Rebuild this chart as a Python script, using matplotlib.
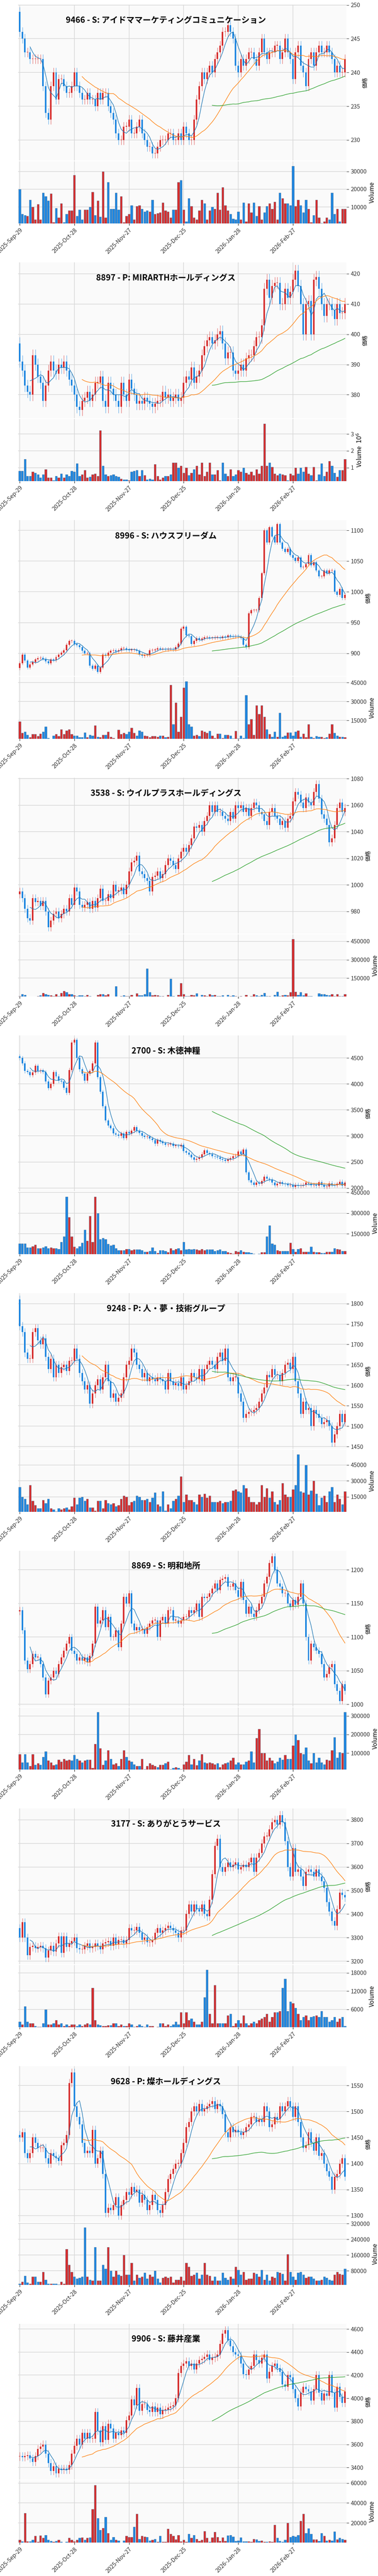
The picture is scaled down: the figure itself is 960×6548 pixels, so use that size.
import numpy as np
import pandas as pd
import matplotlib
matplotlib.use('Agg')
import matplotlib.pyplot as plt
from matplotlib.ticker import FuncFormatter, MaxNLocator

plt.rcParams['font.family'] = ['Noto Sans CJK JP', 'DejaVu Sans']

TICK_LABELS = ['2025-Sep-29', '2025-Oct-28', '2025-Nov-27', '2025-Dec-25', '2026-Jan-28', '2026-Feb-27']

# ---- 9466 ----
CLOSE_9466 = [246, 245, 243, 243, 242, 242, 242, 242, 242, 238, 234, 233, 238, 240, 236, 239, 239, 238, 237, 237, 238,
              240, 238, 237, 236, 236, 237, 236, 236, 235, 237, 236, 237, 237, 235, 234, 233, 231, 230, 230, 232, 232,
              233, 231, 231, 232, 233, 231, 230, 229, 229, 228, 228, 229, 230, 230, 230, 231, 231, 230, 230, 231, 230,
              232, 231, 230, 230, 233, 236, 238, 240, 239, 240, 241, 240, 242, 243, 244, 246, 246, 247, 246, 245, 241,
              240, 242, 241, 242, 243, 243, 242, 241, 243, 245, 243, 242, 243, 243, 244, 244, 242, 243, 245, 243, 242,
              239, 243, 244, 241, 240, 238, 242, 243, 241, 243, 244, 243, 243, 244, 243, 242, 240, 241, 240, 240, 242]
VOL_9466 = [20, 6, 5.5, 5, 14, 10, 3, 11.5, 3, 18, 16, 13.5, 17.5, 1.5, 9.5, 4, 12, 1.5, 6, 8, 8,
            28, 5, 8.5, 3, 8.5, 8.5, 10, 18.5, 5.5, 13.5, 4.5, 30, 4, 24, 9, 9, 18, 8.5, 16, 1.5, 5,
            6, 11, 3, 10.5, 11, 9, 7.5, 8, 7.5, 14, 6, 6.5, 7, 12.5, 8, 7.5, 4, 8.5, 8.5, 24, 25,
            8.5, 2, 15, 10.5, 4, 3, 8, 14, 12, 3, 8, 10, 9, 18, 8.5, 21, 11, 8, 6, 3.5, 3,
            7.5, 3, 12.5, 2, 12, 7, 12.5, 5, 10.5, 3, 7, 10.5, 12, 9, 13, 3, 18, 15, 12, 12, 11,
            33, 10.5, 14, 11, 7, 14, 9, 1.5, 5.5, 14, 4, 1, 2, 4, 3, 18, 6, 9, 2, 9, 9]

# ---- 8897 ----
CLOSE_8897 = [391, 388, 383, 381, 380, 393, 390, 386, 384, 378, 383, 388, 391, 388, 387, 390, 389, 391, 388, 385, 383,
              380, 376, 375, 378, 379, 381, 378, 380, 384, 384, 386, 378, 376, 384, 382, 380, 378, 376, 384, 380, 378,
              385, 382, 380, 377, 378, 377, 379, 378, 377, 376, 377, 378, 378, 381, 379, 380, 378, 379, 380, 378, 379,
              384, 386, 385, 389, 384, 386, 388, 393, 396, 398, 399, 397, 398, 400, 401, 397, 392, 394, 394, 388, 387,
              388, 390, 388, 392, 393, 393, 396, 399, 399, 403, 415, 418, 412, 416, 417, 417, 410, 410, 415, 412, 414,
              418, 421, 416, 410, 400, 410, 411, 400, 418, 419, 415, 410, 406, 410, 410, 408, 405, 410, 407, 407, 410]
VOL_8897 = [.8, .8, 1.5, .5, .5, .75, .7, .6, .4, .6, .9, .4, .4, .25, .5, .4, .65, .4, .6, .5, .8,
            .75, 1.25, .5, .6, .85, .4, .45, .6, .65, .5, 3.2, 1.1, .6, .5, .55, .6, .5, .45, .35, .3, .3,
            .25, .75, .8, .85, .5, .85, .55, .3, .35, .3, 1.2, .5, .3, .4, .5, .5, .6, 1.3, 1.3, 1.0, 1.1,
            .7, 1.0, .55, .7, .9, 1.1, .6, 1.3, .5, .75, 1.3, .6, .6, .85, .25, 1.3, .65, .5, .9, .5, .6,
            .85, .75, 1.0, .7, .6, .75, .55, .9, .65, 1.1, 3.6, 1.1, 1.3, 1.05, .65, .55, .65, .6, .55, .25, .65,
            .55, 1.0, .65, 1.0, .75, 1.05, .65, .55, 1.05, .25, .6, 1.25, .5, .75, 1.4, 1.1, .7, .45, .85, .85, 1.5]

# ---- 8996 ----
CLOSE_8996 = [884, 898, 888, 877, 882, 886, 890, 892, 893, 891, 887, 884, 890, 889, 894, 898, 901, 905, 914, 920, 920,
              915, 913, 910, 904, 900, 900, 880, 875, 880, 870, 877, 898, 896, 901, 904, 905, 903, 905, 908, 908, 906,
              905, 906, 906, 904, 898, 896, 897, 897, 905, 905, 906, 908, 907, 907, 906, 907, 907, 906, 910, 916, 940,
              943, 929, 928, 915, 920, 925, 922, 924, 926, 926, 925, 925, 926, 926, 925, 927, 926, 929, 928, 927, 928,
              927, 925, 914, 910, 965, 970, 970, 970, 990, 1030, 1100, 1080, 1105, 1090, 1080, 1110, 1080, 1070, 1065, 1070, 1060,
              1055, 1050, 1056, 1040, 1040, 1045, 1060, 1043, 1048, 1035, 1025, 1025, 1035, 1030, 1035, 1035, 1000, 995, 1005, 990, 995]
VOL_8996 = [14, 5, 6, 3.5, 1.5, 4, 4, 2.5, 4.5, 6, 10, 1, .5, 3, 4, 2.5, 8, 4, 7, 8, 4,
            3, 3, 1.5, 1.5, 5.5, 1.5, 3.5, 3, 11, 2, 1.5, 3.5, 3.5, 6, 2, 1, .5, 7.5, 4, 5, 4,
            6, 9, 5, 3, 7, 6, 3, 2.5, 1.5, 2.5, 2.5, 2, 3, 3, 1.5, 2, 43, 12, 29, 6, 18,
            41, 46, 12, 10, 3, 3.5, 2.5, 7, 6, 5, 6.5, 3, 1, 4.5, 4.5, 1, 3.5, 3.5, 3, .8, 6.5,
            .8, 3, 1, 35, 12, 16, 3.5, 27, 20, 27, 18, 8, 4, 2, 6, 2, 21, 2, 3, 5.5, 5.5,
            3, 6, 7, 2, 4.5, 1.5, 12, 2, 1, 2.5, 2, 2, 1, 1.5, 4.5, 12, 5, 3, 2, 2, 1.5]

# ---- 3538 ----
CLOSE_3538 = [995, 990, 982, 975, 973, 990, 987, 988, 984, 988, 980, 968, 973, 978, 980, 975, 978, 982, 980, 990, 985,
              998, 995, 985, 983, 985, 987, 982, 988, 983, 990, 997, 988, 988, 993, 990, 1000, 995, 996, 998, 993, 1000,
              1010, 1017, 1018, 1022, 1010, 1008, 1005, 1003, 995, 1006, 1007, 1010, 1005, 1008, 1015, 1020, 1018, 1015, 1012, 1020, 1025,
              1028, 1025, 1030, 1035, 1044, 1043, 1045, 1040, 1048, 1052, 1060, 1055, 1060, 1055, 1055, 1052, 1050, 1048, 1055, 1050, 1060,
              1058, 1060, 1055, 1058, 1052, 1058, 1062, 1060, 1055, 1053, 1048, 1045, 1055, 1058, 1052, 1050, 1045, 1048, 1043, 1050, 1052,
              1063, 1070, 1068, 1062, 1058, 1066, 1062, 1060, 1070, 1076, 1065, 1053, 1050, 1045, 1032, 1035, 1045, 1058, 1062, 1055, 1058]
VOL_3538 = [5, 20, 15, 2, 2, 1, 1, 5, 10, 30, 20, 15, 10, 5, 20, 5, 30, 45, 35, 20, 20,
            10, 5, 10, 10, 5, 15, 5, 2, 1, 15, 20, 20, 10, 20, 2, 1, 85, 2, 5, 10, 5,
            5, 15, 2, 25, 10, 10, 20, 230, 35, 10, 15, 10, 5, 5, 2, 15, 145, 5, 2, 15, 110,
            20, 5, 5, 15, 10, 25, 2, 15, 10, 5, 20, 10, 15, 5, 5, 10, 2, 15, 5, 10, 5,
            2, 5, 2, 15, 2, 5, 20, 10, 5, 15, 30, 5, 5, 2, 15, 40, 5, 10, 15, 10, 35,
            470, 40, 15, 35, 10, 25, 5, 5, 2, 2, 25, 20, 20, 15, 10, 20, 5, 20, 5, 5, 20]

# ---- 2700 ----
CLOSE_2700 = [4500, 4400, 4250, 4230, 4170, 4220, 4350, 4250, 4260, 4230, 4050, 3920, 4000, 4230, 4150, 4060, 4050, 3930, 3830, 4270, 4800,
              4850, 4500, 4280, 4200, 4060, 4200, 4250, 4400, 4800, 4130, 3850, 3570, 3300, 3200, 3150, 3050, 3030, 3000, 3050, 2960, 3080,
              3050, 3100, 3170, 3100, 3060, 3000, 2980, 2990, 2950, 2920, 2850, 2920, 2890, 2860, 2830, 2840, 2850, 2810, 2810, 2800, 2830,
              2710, 2680, 2640, 2590, 2540, 2560, 2590, 2650, 2720, 2670, 2650, 2610, 2600, 2590, 2560, 2540, 2520, 2550, 2570, 2610, 2620,
              2700, 2650, 2740, 2300, 2150, 2100, 2060, 2100, 2080, 2130, 2220, 2180, 2160, 2100, 2050, 2080, 2110, 2080, 2070, 2050, 2060,
              2020, 2060, 2040, 2050, 2060, 2100, 2080, 2050, 2060, 2040, 2110, 2060, 2020, 2030, 2090, 2060, 2050, 2080, 2120, 2040, 2100]
VOL_2700 = [80, 80, 80, 50, 50, 60, 70, 45, 45, 50, 60, 45, 50, 45, 45, 40, 90, 130, 420, 270, 130,
            55, 45, 60, 85, 180, 100, 280, 90, 420, 300, 110, 120, 110, 75, 65, 70, 45, 30, 30, 30, 40,
            40, 30, 35, 35, 35, 30, 20, 20, 25, 50, 25, 10, 30, 30, 25, 15, 45, 30, 40, 45, 30,
            90, 35, 40, 35, 40, 35, 30, 40, 30, 35, 35, 35, 25, 30, 35, 25, 25, 15, 10, 5, 25,
            20, 30, 20, 15, 15, 10, 5, 2, 5, 15, 15, 130, 210, 80, 70, 30, 25, 25, 25, 25, 85,
            40, 20, 40, 45, 20, 20, 20, 55, 20, 15, 15, 10, 10, 20, 20, 20, 45, 40, 35, 25, 25]

# ---- 9248 ----
CLOSE_9248 = [1745, 1730, 1680, 1665, 1665, 1730, 1740, 1710, 1700, 1715, 1670, 1640, 1665, 1620, 1650, 1630, 1645, 1650, 1635, 1660, 1660,
              1690, 1665, 1630, 1610, 1590, 1600, 1555, 1580, 1600, 1615, 1590, 1620, 1650, 1610, 1570, 1580, 1560, 1570, 1580, 1620, 1650,
              1660, 1690, 1680, 1650, 1640, 1620, 1630, 1610, 1620, 1615, 1610, 1620, 1615, 1610, 1590, 1630, 1610, 1600, 1605, 1598, 1620,
              1590, 1600, 1610, 1630, 1620, 1615, 1640, 1610, 1640, 1650, 1660, 1650, 1640, 1670, 1680, 1660, 1690, 1620, 1610, 1620, 1620,
              1580, 1560, 1520, 1530, 1535, 1535, 1540, 1545, 1560, 1580, 1595, 1625, 1620, 1640, 1625, 1625, 1610, 1630, 1650, 1655, 1640,
              1670, 1610, 1580, 1530, 1560, 1540, 1545, 1500, 1540, 1530, 1520, 1505, 1510, 1515, 1500, 1460, 1480, 1500, 1530, 1510, 1530]
VOL_9248 = [24, 15, 13, 8, 26, 11, 7, 4, 4, 12, 9, 13, 4, 3, 1, 4, 3, 4, 5, 3, 6,
            14, 8, 14, 15, 11, 13, 5, 5, 2, 11, 11, 4, 12, 9, 8, 9, 6, 7, 13, 16, 15,
            7, 10, 11, 16, 15, 12, 12, 13, 10, 14, 19, 8, 6, 20, 2, 8, 4, 11, 13, 16, 34,
            10, 17, 12, 12, 10, 8, 17, 15, 18, 14, 16, 10, 10, 10, 11, 9, 10, 10, 11, 21, 22,
            20, 19, 26, 23, 15, 10, 10, 8, 10, 26, 15, 23, 14, 20, 10, 8, 12, 28, 17, 15, 15,
            22, 26, 55, 20, 19, 45, 17, 21, 30, 18, 7, 14, 16, 10, 20, 24, 10, 17, 13, 8, 20]

# ---- 8869 ----
CLOSE_8869 = [1140, 1110, 1065, 1052, 1060, 1075, 1070, 1070, 1060, 1040, 1015, 1035, 1040, 1050, 1045, 1060, 1070, 1080, 1090, 1100, 1080,
              1075, 1065, 1070, 1065, 1070, 1062, 1072, 1090, 1145, 1120, 1125, 1140, 1115, 1130, 1100, 1100, 1110, 1085, 1120, 1160, 1150,
              1165, 1120, 1110, 1115, 1110, 1112, 1105, 1115, 1120, 1125, 1125, 1100, 1125, 1130, 1120, 1140, 1140, 1125, 1125, 1120, 1125,
              1130, 1130, 1140, 1136, 1140, 1150, 1130, 1160, 1158, 1160, 1165, 1172, 1180, 1170, 1185, 1187, 1189, 1175, 1175, 1180, 1170,
              1160, 1182, 1155, 1135, 1145, 1135, 1130, 1140, 1150, 1160, 1180, 1190, 1210, 1220, 1200, 1180, 1175, 1165, 1165, 1150, 1145,
              1155, 1148, 1160, 1180, 1150, 1100, 1065, 1090, 1085, 1080, 1075, 1060, 1040, 1045, 1055, 1060, 1030, 1020, 1005, 1030, 1020]
VOL_8869 = [95, 50, 95, 50, 30, 95, 38, 45, 38, 80, 110, 60, 50, 35, 40, 65, 55, 70, 60, 65, 60,
            90, 70, 60, 50, 60, 65, 65, 20, 150, 320, 125, 38, 60, 115, 70, 40, 45, 30, 70, 115, 80,
            60, 55, 40, 30, 30, 70, 15, 30, 45, 38, 30, 25, 38, 38, 45, 55, 15, 20, 25, 20, 15,
            40, 55, 90, 40, 70, 35, 60, 95, 50, 45, 50, 45, 40, 45, 25, 40, 45, 50, 60, 75, 40,
            50, 40, 40, 55, 60, 110, 50, 180, 230, 100, 100, 60, 75, 60, 45, 55, 75, 65, 90, 70, 70,
            140, 200, 170, 100, 95, 130, 60, 45, 100, 50, 75, 50, 40, 65, 60, 115, 185, 75, 105, 100, 320]

# ---- 3177 ----
CLOSE_3177 = [3300, 3365, 3300, 3225, 3260, 3265, 3255, 3260, 3265, 3255, 3215, 3245, 3265, 3240, 3275, 3305, 3235, 3305, 3260, 3275, 3285,
              3300, 3255, 3250, 3250, 3265, 3275, 3255, 3260, 3275, 3265, 3250, 3275, 3280, 3285, 3265, 3300, 3270, 3290, 3290, 3275, 3290,
              3340, 3330, 3330, 3345, 3320, 3290, 3300, 3280, 3280, 3290, 3320, 3340, 3320, 3330, 3340, 3350, 3340, 3330, 3320, 3300, 3330,
              3330, 3400, 3440, 3410, 3440, 3420, 3410, 3440, 3400, 3390, 3460, 3570, 3690, 3720, 3600, 3580, 3600, 3620, 3600, 3610, 3620,
              3590, 3600, 3610, 3600, 3620, 3640, 3580, 3640, 3660, 3700, 3730, 3730, 3760, 3790, 3800, 3780, 3820, 3790, 3710, 3600, 3560,
              3680, 3580, 3590, 3560, 3520, 3580, 3590, 3580, 3560, 3590, 3560, 3540, 3510, 3450, 3410, 3370, 3350, 3420, 3490, 3480, 3470]
VOL_3177 = [2, 1, 7, 2, 1.5, 1.5, .5, .3, .3, 1.5, 6, 1, 1, 1.5, 2.5, 1, 1.5, .5, 1, .5, 1,
            1, .5, 1, .5, 1, 1.5, 1, 13, 2.5, 1, .8, .5, .5, .8, .8, 1.5, 1.5, .5, 1, .5, .5,
            1.5, 1, .3, .5, 1, .5, .3, 1, .5, .5, .2, .3, 1.5, 1.5, .5, 1, .5, 1, 2, 1, 5,
            1.5, 5, 2.5, 3, 2, 1, 1, 2, 10, 19, 4.5, 1.5, 14, 1.5, 1.5, 1.5, 1.5, 4, 4.5, .5, 1.5,
            2.5, 1.5, 4, 1.5, .8, 1.5, 2, 1.5, 2.5, 3, 3.5, 4.5, 2, 3.5, 5, 5, 5.5, 13, 16, 5.5, 8.5,
            8, 6.5, 4.5, 2.5, 3.5, 4, 2.5, 3.5, 3.8, 4, 3.5, 5.5, 3.5, 3.5, 2, 2.5, 3.5, 2, 3, 3.5, .5]

# ---- 9628 ----
CLOSE_9628 = [1450, 1460, 1420, 1410, 1420, 1450, 1440, 1430, 1430, 1430, 1410, 1400, 1420, 1415, 1410, 1405, 1435, 1440, 1455, 1555, 1575,
              1510, 1490, 1475, 1440, 1420, 1425, 1420, 1465, 1400, 1410, 1425, 1380, 1305, 1315, 1310, 1320, 1335, 1300, 1320, 1330, 1345,
              1340, 1355, 1345, 1350, 1325, 1340, 1330, 1310, 1320, 1340, 1330, 1310, 1305, 1320, 1345, 1370, 1380, 1390, 1400, 1400, 1420,
              1440, 1470, 1480, 1500, 1510, 1500, 1515, 1500, 1505, 1510, 1515, 1520, 1505, 1515, 1510, 1495, 1460, 1450, 1470, 1460, 1465,
              1460, 1455, 1460, 1470, 1475, 1490, 1490, 1480, 1485, 1480, 1510, 1500, 1470, 1475, 1490, 1485, 1510, 1500, 1510, 1520, 1510,
              1490, 1510, 1480, 1450, 1430, 1435, 1460, 1440, 1425, 1450, 1415, 1420, 1400, 1385, 1375, 1350, 1375, 1380, 1400, 1410, 1375]
VOL_9628 = [15, 25, 55, 20, 15, 50, 50, 25, 25, 75, 35, 15, 15, 15, 15, 10, 25, 15, 190, 110, 75,
            50, 40, 45, 50, 300, 50, 35, 30, 200, 30, 30, 110, 90, 200, 80, 50, 80, 60, 55, 160, 60,
            60, 120, 30, 60, 45, 50, 70, 40, 60, 50, 80, 40, 20, 45, 50, 45, 50, 20, 35, 35, 50,
            30, 120, 100, 55, 60, 70, 40, 60, 120, 60, 55, 30, 50, 30, 30, 70, 45, 35, 50, 40, 100,
            85, 60, 75, 35, 40, 40, 70, 65, 50, 85, 35, 60, 30, 50, 45, 75, 70, 65, 30, 165, 75,
            50, 35, 70, 75, 60, 45, 50, 50, 40, 30, 30, 35, 50, 45, 35, 30, 60, 75, 65, 60, 90]

# ---- 9906 ----
CLOSE_9906 = [3500, 3490, 3500, 3505, 3480, 3450, 3500, 3560, 3580, 3600, 3520, 3440, 3370, 3410, 3350, 3390, 3380, 3390, 3380, 3420, 3520,
              3590, 3650, 3600, 3700, 3650, 3700, 3650, 3650, 3880, 3720, 3620, 3760, 3640, 3780, 3740, 3650, 3700, 3680, 3720, 3700, 3810,
              3850, 3990, 3940, 4090, 3890, 3950, 3950, 3900, 3880, 3930, 3880, 3920, 3860, 3900, 3900, 3920, 3930, 3940, 4000, 4220, 4280,
              4300, 4320, 4280, 4300, 4250, 4300, 4330, 4340, 4360, 4380, 4330, 4350, 4360, 4380, 4470, 4560, 4590, 4500, 4450, 4400, 4380,
              4370, 4300, 4210, 4200, 4250, 4280, 4380, 4330, 4300, 4350, 4380, 4170, 4230, 4280, 4300, 4260, 4230, 4120, 4100, 4200, 4180,
              4080, 4000, 3930, 4050, 4100, 4080, 4060, 3980, 4080, 4200, 4050, 3980, 4040, 4020, 4200, 4050, 3920, 4100, 4010, 3960, 4060]
VOL_9906 = [3, 1.5, 30, 1.5, 1.5, 3, 7, 1, 7.5, 5, 8, 3, 2, 1, 2, 3, 1, .5, 1, 5, 3,
            1.5, 3, 5, 5.5, 3, 5, 5.5, 34, 58, 25, 13, 15, 26, 10, 3, 6, 3, 2.5, .5, 2.5, 7,
            6, 6, 16, 29, 4, 7, 6.5, 6, 2.5, 3, 4, 1, 7, 1, 1, 14, 9, 7, 3.5, 8, 1.5,
            3, 1, 9, 5, 8, 4, 2, 3, 12, 5, 1, 5.5, 11, 6, 2, 5.5, 2, 7.5, 8, 6.5, 2,
            2.5, 5.5, 1.5, 1.5, 1.5, 1, 4, 3.5, 2, 2.5, 1, 1, 1.5, 1, 18, 5, 2, 1, 3, 20, 6,
            7, 6.5, 8, 22, 29, 10, 14.5, 9, 3.5, 3.5, 2, 10, 7, 2.5, 3, 2.5, 11.5, 3.5, 5, 4, 3]

TITLES = ['9466 - S: アイドママーケティングコミュニケーション', '8897 - P: MIRARTHホールディングス',
          '8996 - S: ハウスフリーダム', '3538 - S: ウイルプラスホールディングス', '2700 - S: 木徳神糧',
          '9248 - P: 人・夢・技術グループ', '8869 - S: 明和地所', '3177 - S: ありがとうサービス',
          '9628 - P: 燦ホールディングス', '9906 - S: 藤井産業']
FIRST_OPEN = [249, 397, 876, 993, 4530, 1810, 1138, 3340, 1455, 3495]
CLOSES = [CLOSE_9466, CLOSE_8897, CLOSE_8996, CLOSE_3538, CLOSE_2700, CLOSE_9248, CLOSE_8869, CLOSE_3177, CLOSE_9628, CLOSE_9906]
VOLS = [VOL_9466, VOL_8897, VOL_8996, VOL_3538, VOL_2700, VOL_9248, VOL_8869, VOL_3177, VOL_9628, VOL_9906]
VOL_UNIT = [1e3, 1e6, 1e3, 1e3, 1e3, 1e3, 1e3, 1e3, 1e3, 1e3]
WICK = [0.7, 2, 3, 3, 40, 10, 5, 18, 8, 35]

UP = '#d62d2d'
DOWN = '#1e86e0'
W, H = 960, 6548
fig = plt.figure(figsize=(9.6, 65.48), dpi=100)


def style_axis(ax):
    ax.set_facecolor('#fafafa')
    ax.grid(color='#d9d9d9', lw=1.2)
    ax.set_axisbelow(True)
    for s in ax.spines.values():
        s.set_visible(False)
    ax.yaxis.tick_right()
    ax.yaxis.set_label_position('right')
    ax.tick_params(axis='y', labelsize=10.5, colors='#333333', length=4)


def draw_panel(k):
    top = 655 * k
    c = np.array(CLOSES[k], float)
    v = np.array(VOLS[k], float) * VOL_UNIT[k]
    n = min(len(c), len(v))
    c, v = c[:n], v[:n]
    o = np.concatenate([[FIRST_OPEN[k]], c[:-1]])
    hi = np.maximum(o, c) + WICK[k]
    lo = np.minimum(o, c) - WICK[k]
    x = np.arange(n)
    colors = [UP if cc >= oo else DOWN for oo, cc in zip(o, c)]

    axp = fig.add_axes([46 / W, 1 - (top + 408) / H, 834 / W, 396 / H])
    axv = fig.add_axes([46 / W, 1 - (top + 568) / H, 834 / W, 158 / H], sharex=axp)
    style_axis(axp)
    style_axis(axv)

    rng = hi.max() - lo.min()
    axp.vlines(x, lo, hi, colors=colors, lw=0.8, alpha=0.7)
    axp.bar(x, np.maximum(np.abs(c - o), rng * 0.003), bottom=np.minimum(o, c),
            width=0.6, color=colors)
    s = pd.Series(c)
    for w, col in ((5, 'C0'), (25, 'C1'), (75, 'C2')):
        axp.plot(x, s.rolling(w).mean(), color=col, lw=1)
    axp.set_ylim(lo.min() - rng * 0.015, hi.max() + rng * 0.015)
    axp.set_ylabel('価格', fontsize=10)
    axp.tick_params(axis='x', labelbottom=False, length=0)
    axp.text(0.45, 0.9, TITLES[k], transform=axp.transAxes, ha='center', va='center',
             fontsize=15, fontweight='bold')

    axv.bar(x, v, width=0.8, color=colors, edgecolor='#4a6a88', lw=0.4)
    axv.set_ylim(v.min() * 0.8, v.max() * 1.08)
    axv.yaxis.set_major_locator(MaxNLocator(4))
    if VOL_UNIT[k] >= 1e6:
        axv.yaxis.set_major_formatter(FuncFormatter(lambda val, p: '{:.0f}'.format(val / 1e6)))
        axv.set_ylabel('Volume  $10^{6}$', fontsize=11)
    else:
        axv.yaxis.set_major_formatter(FuncFormatter(lambda val, p: '{:.0f}'.format(val)))
        axv.set_ylabel('Volume', fontsize=11)
    axv.set_xticks(range(0, n, 21))
    axv.set_xticklabels(TICK_LABELS[:len(range(0, n, 21))], rotation=45, ha='right',
                        rotation_mode='anchor', fontsize=10.5, color='#333333')
    axv.set_xlim(-0.6, n - 0.4)


for k in range(len(TITLES)):
    draw_panel(k)

fig.savefig('out.png', dpi=100)
